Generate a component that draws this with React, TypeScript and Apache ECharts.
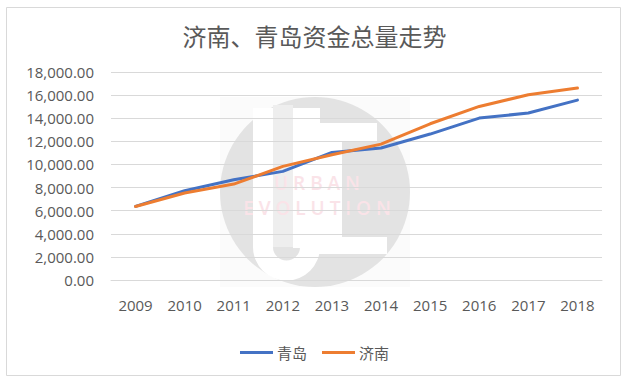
import React, { useEffect, useRef } from "react";
import * as echarts from "echarts";

const titleText = "济南、青岛资金总量走势";
const years = ["2009", "2010", "2011", "2012", "2013", "2014", "2015", "2016", "2017", "2018"];
const qingdao = [6370, 7720, 8680, 9400, 11040, 11420, 12630, 14010, 14450, 15570];
const jinan = [6360, 7530, 8300, 9830, 10840, 11760, 13520, 15020, 16030, 16610];
const seriesNames = ["青岛", "济南"];
const seriesColors = ["#4472C4", "#ED7D31"];
const yMin = 0;
const yMax = 18000;
const yStep = 2000;

export default function App() {
  const ref = useRef<HTMLDivElement>(null);
  useEffect(() => {
    if (!ref.current) return;
    const chart = echarts.init(ref.current, undefined, { renderer: "svg" });
    const wm = -5;
    chart.setOption({
      animation: false,
      backgroundColor: "#ffffff",
      title: {
        text: titleText,
        left: "center",
        top: 23,
        padding: 0,
        textStyle: {
          fontFamily: "Noto Sans CJK SC",
          fontSize: 24,
          fontWeight: "normal",
          color: "#595959",
        },
      },
      legend: {
        data: seriesNames,
        left: "center",
        top: 340,
        icon: "rect",
        itemWidth: 33,
        itemHeight: 3,
        itemGap: 15,
        textStyle: {
          fontFamily: "Noto Sans CJK SC",
          fontSize: 15,
          color: "#595959",
          padding: [0, 0, 0, -1],
        },
      },
      grid: { left: 111, right: 27, top: 72, bottom: 103 },
      xAxis: {
        type: "category",
        data: years,
        boundaryGap: true,
        axisLine: { show: true, lineStyle: { color: "#d9d9d9", width: 1 } },
        axisTick: { show: false },
        axisLabel: {
          margin: 17,
          fontFamily: "Open Sans",
          fontSize: 15,
          color: "#595959",
        },
        splitLine: { show: false },
      },
      yAxis: {
        type: "value",
        min: yMin,
        max: yMax,
        interval: yStep,
        axisLine: { show: false },
        axisTick: { show: false },
        axisLabel: {
          margin: 17,
          fontFamily: "Open Sans",
          fontSize: 15,
          color: "#595959",
          formatter: (v: number) =>
            v.toLocaleString("en-US", { minimumFractionDigits: 2, maximumFractionDigits: 2 }),
        },
        splitLine: { show: true, lineStyle: { color: "#d9d9d9", width: 1 } },
      },
      series: [
        {
          name: seriesNames[0],
          type: "line",
          data: qingdao,
          symbol: "none",
          z: 3,
          lineStyle: { color: seriesColors[0], width: 3, join: "round", cap: "round" },
          itemStyle: { color: seriesColors[0] },
        },
        {
          name: seriesNames[1],
          type: "line",
          data: jinan,
          symbol: "none",
          z: 4,
          lineStyle: { color: seriesColors[1], width: 3, join: "round", cap: "round" },
          itemStyle: { color: seriesColors[1] },
        },
      ],
      graphic: [
        {
          type: "rect",
          z: wm,
          silent: true,
          shape: { x: 6.5, y: 7.5, width: 614, height: 368 },
          style: { fill: "none", stroke: "#d9d9d9", lineWidth: 1 },
        },
        {
          type: "rect",
          z: wm,
          silent: true,
          shape: { x: 220, y: 97, width: 190, height: 190 },
          style: { fill: "#fbfbfb" },
        },
        {
          type: "circle",
          z: wm,
          silent: true,
          shape: { cx: 315, cy: 192, r: 95 },
          style: { fill: "#e3e3e3" },
        },
        {
          type: "rect",
          z: wm,
          silent: true,
          shape: { x: 273, y: 105, width: 20, height: 142 },
          style: { fill: "#eeeeee" },
        },
        {
          type: "rect",
          z: wm,
          silent: true,
          shape: { x: 253, y: 108, width: 20, height: 140 },
          style: { fill: "#ffffff" },
        },
        {
          type: "rect",
          z: wm,
          silent: true,
          shape: { x: 293, y: 108, width: 27, height: 140 },
          style: { fill: "#ffffff" },
        },
        {
          type: "sector",
          z: wm,
          silent: true,
          shape: { cx: 286.5, cy: 247, r: 33.5, r0: 13.5, startAngle: 0, endAngle: Math.PI, clockwise: true },
          style: { fill: "#ffffff" },
        },
        {
          type: "rect",
          z: wm,
          silent: true,
          shape: { x: 293, y: 123, width: 84, height: 18 },
          style: { fill: "#ffffff" },
        },
        {
          type: "rect",
          z: wm,
          silent: true,
          shape: { x: 320, y: 141, width: 22, height: 100 },
          style: { fill: "#ffffff" },
        },
        {
          type: "rect",
          z: wm,
          silent: true,
          shape: { x: 300, y: 237, width: 87, height: 17 },
          style: { fill: "#ffffff" },
        },
        {
          type: "text",
          z: wm,
          silent: true,
          style: {
            text: "U R B A N",
            x: 317,
            y: 183,
            align: "center",
            verticalAlign: "middle",
            fontFamily: "Open Sans",
            fontSize: 19,
            lineHeight: 19,
            fontWeight: 600,
            fill: "#fae3e8",
          },
        },
        {
          type: "text",
          z: wm,
          silent: true,
          style: {
            text: "E V O L U T I O N",
            x: 317,
            y: 208,
            align: "center",
            verticalAlign: "middle",
            fontFamily: "Open Sans",
            fontSize: 19,
            lineHeight: 19,
            fontWeight: 600,
            fill: "#fae3e8",
          },
        },
      ],
    });
    return () => chart.dispose();
  }, []);
  return (
    <div
      ref={ref}
      style={{ position: "absolute", left: 0, top: 0, width: 629, height: 383 }}
    />
  );
}
